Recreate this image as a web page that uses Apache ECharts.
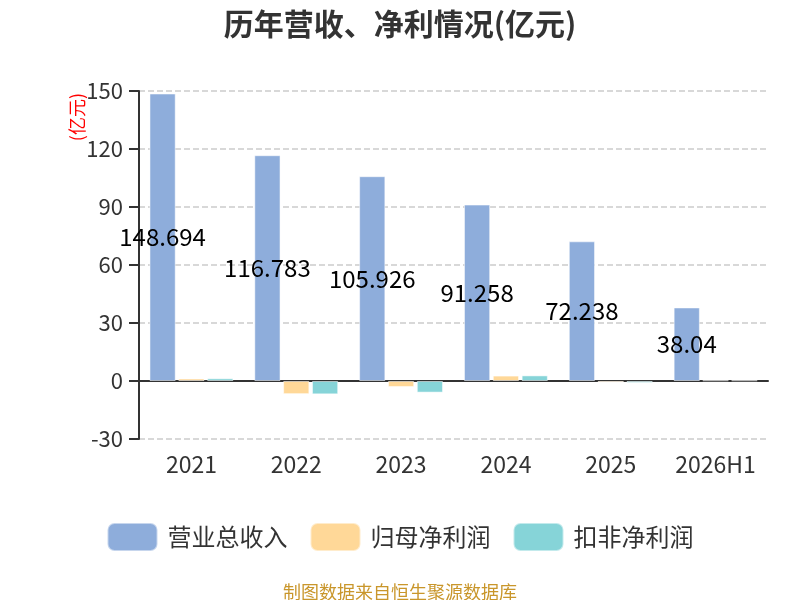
<!DOCTYPE html>
<html>
<head>
<meta charset="utf-8">
<script src="https://cdn.jsdelivr.net/npm/echarts@6/dist/echarts.min.js"></script>
<style>
  html, body { margin: 0; padding: 0; background: #fff; }
  #main { width: 800px; height: 600px; }
</style>
</head>
<body>
<div id="main"></div>
<script>
//数据
var years = ['2021', '2022', '2023', '2024', '2025', '2026H1'];
var revenue = [148.694, 116.783, 105.926, 91.258, 72.238, 38.04];   //营业总收入
var netProfit = [1.3, -6.8, -3.1, 2.8, -0.8, 0.3];                  //归母净利润
var deductProfit = [1.4, -6.9, -6.0, 2.9, -1.0, 0.3];               //扣非净利润

var myChart = echarts.init(document.getElementById('main'));
var font = "'Noto Sans CJK SC', 'Noto Sans', sans-serif";

myChart.setOption({
    backgroundColor: '#fff',
    textStyle: { fontFamily: font },
    title: [{
        text: '历年营收、净利情况(亿元)',
        left: 'center',
        top: 4,
        textStyle: { fontSize: 30, fontWeight: 'bold', color: '#333', fontFamily: font }
    }, {
        text: '制图数据来自恒生聚源数据库',
        left: 'center',
        top: 578,
        textStyle: { fontSize: 18, fontWeight: 'normal', color: '#C9962B', fontFamily: font }
    }],
    legend: {
        top: 517,
        left: 'center',
        icon: 'roundRect',
        itemWidth: 50,
        itemHeight: 28,
        itemGap: 22,
        textStyle: { fontSize: 24, color: '#333', padding: [0, 0, 0, 5] },
        data: ['营业总收入', '归母净利润', '扣非净利润']
    },
    grid: { left: 139, right: 32, top: 91, bottom: 161 },
    xAxis: {
        type: 'category',
        data: years,
        axisLine: { onZero: true, lineStyle: { color: '#333', width: 2 } },
        axisTick: { length: 8, lineStyle: { color: '#333', width: 2 } },
        axisLabel: { fontSize: 23, color: '#333', margin: 14, interval: 0 }
    },
    yAxis: {
        type: 'value',
        min: -30,
        max: 150,
        interval: 30,
        name: '(亿元)',
        nameLocation: 'end',
        nameRotate: 90,
        nameGap: -2,
        nameMoveOverlap: false,
        nameTextStyle: {
            color: '#f00', fontSize: 18, align: 'right', verticalAlign: 'bottom',
            padding: [0, 0, 53, 0]
        },
        axisLine: { show: true, lineStyle: { color: '#333', width: 2 } },
        axisTick: { show: true, length: 10, lineStyle: { color: '#333', width: 2 } },
        axisLabel: { fontSize: 22, color: '#333', margin: 16 },
        splitLine: { lineStyle: { type: 'dashed', color: '#ccc', width: 1.5 } }
    },
    series: [{
        name: '营业总收入',
        type: 'bar',
        data: revenue,
        barGap: '10%',
        barCategoryGap: '20%',
        itemStyle: { color: '#8EADDB', borderColor: 'rgba(255,255,255,0.5)', borderWidth: 1 },
        label: { show: true, position: 'inside', color: '#000', fontSize: 24 }
    }, {
        name: '归母净利润',
        type: 'bar',
        data: netProfit,
        itemStyle: { color: '#FFD898', borderColor: 'rgba(255,255,255,0.5)', borderWidth: 1 }
    }, {
        name: '扣非净利润',
        type: 'bar',
        data: deductProfit,
        itemStyle: { color: '#86D4D8', borderColor: 'rgba(255,255,255,0.5)', borderWidth: 1 }
    }]
});
</script>
</body>
</html>
